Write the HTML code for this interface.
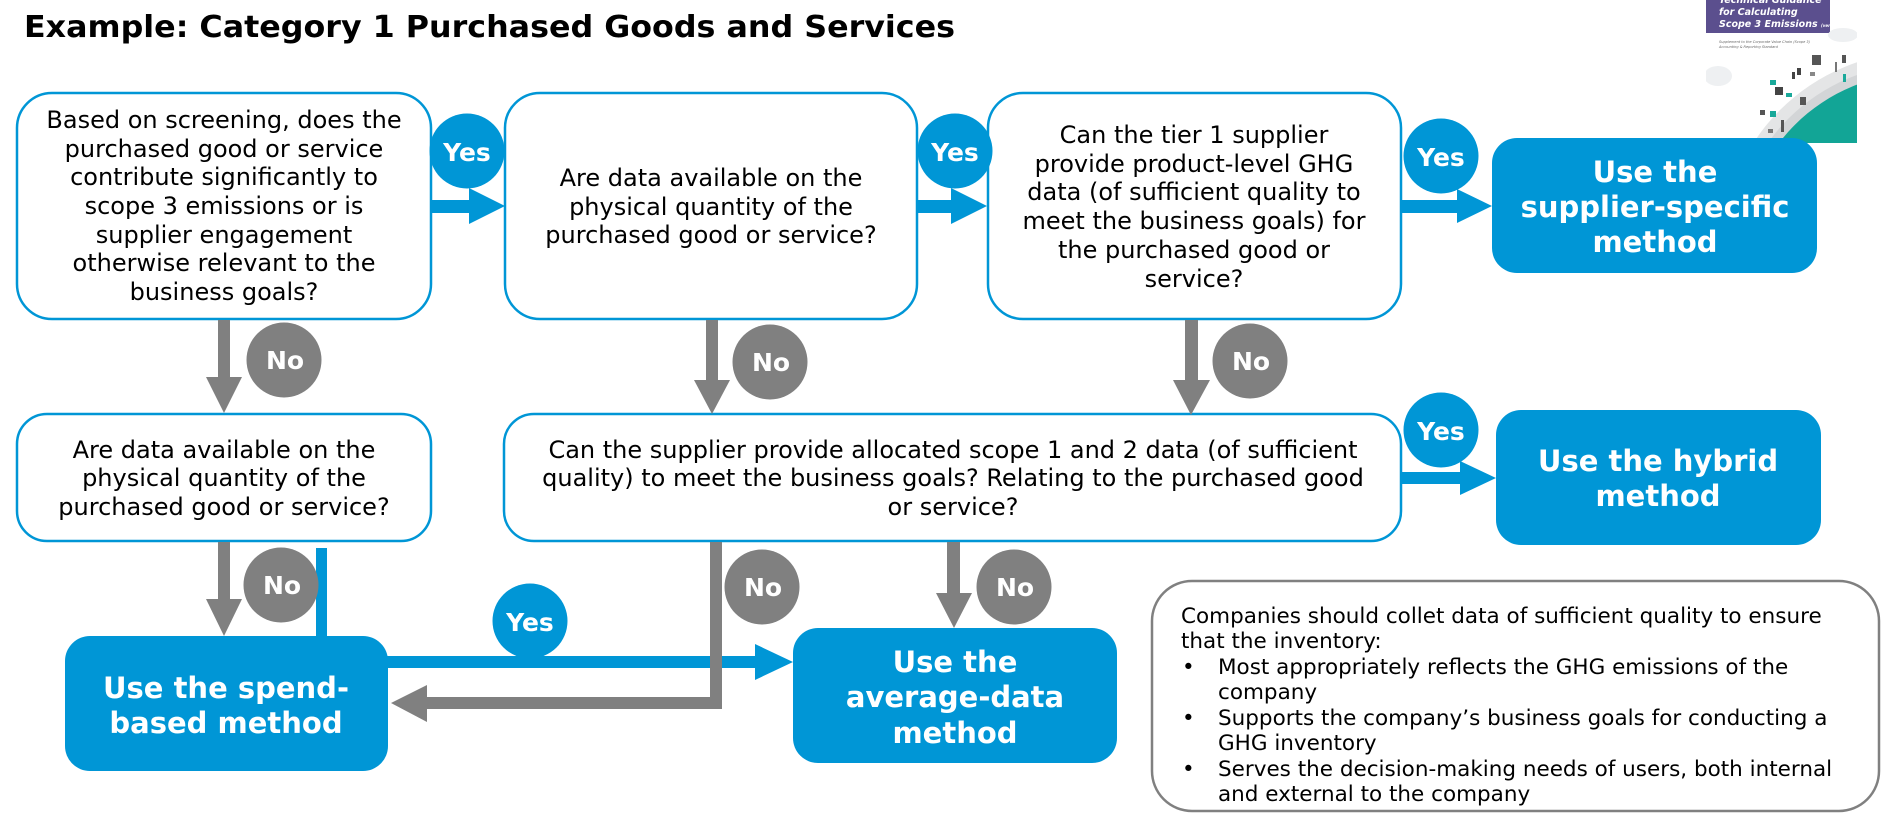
<!DOCTYPE html>
<html><head><meta charset="utf-8"><style>
html,body{margin:0;padding:0;background:#fff;}
svg{display:block;}
.t{font-family:"DejaVu Sans","Liberation Sans",sans-serif;}
.q{font-family:"DejaVu Sans","Liberation Sans",sans-serif;font-size:24px;fill:#000;text-anchor:middle;}
.b{font-family:"DejaVu Sans","Liberation Sans",sans-serif;font-weight:bold;font-size:29px;fill:#fff;text-anchor:middle;}
.c{font-family:"DejaVu Sans","Liberation Sans",sans-serif;font-weight:bold;font-size:25px;fill:#fff;text-anchor:middle;}
.n{font-family:"DejaVu Sans","Liberation Sans",sans-serif;font-size:21.5px;fill:#000;}
</style></head><body>
<svg width="1883" height="819" viewBox="0 0 1883 819" xmlns="http://www.w3.org/2000/svg">
<rect width="1883" height="819" fill="#fff"/>

<!-- Title -->
<text class="t" x="24" y="37" font-size="30" font-weight="bold" fill="#000" textLength="931" lengthAdjust="spacingAndGlyphs">Example: Category 1 Purchased Goods and Services</text>

<!-- Book cover -->
<defs>
  <clipPath id="cv"><rect x="1706" y="0" width="151" height="143"/></clipPath>
  <radialGradient id="tg" cx="0.7" cy="0.7" r="0.6">
    <stop offset="0" stop-color="#3cc3b3"/>
    <stop offset="1" stop-color="#12a596"/>
  </radialGradient>
</defs>
<g clip-path="url(#cv)">
  <rect x="1706" y="0" width="151" height="143" fill="#fff"/>
  <rect x="1706" y="0" width="124" height="33" fill="#5b4f8e"/>
  <text class="t" x="1719" y="3" font-size="9.5" font-weight="bold" font-style="italic" fill="#fff">Technical Guidance</text>
  <text class="t" x="1719" y="15" font-size="9.5" font-weight="bold" font-style="italic" fill="#fff">for Calculating</text>
  <text class="t" x="1719" y="27" font-size="9.5" font-weight="bold" font-style="italic" fill="#fff">Scope 3 Emissions <tspan font-size="4">(version 1.0)</tspan></text>
  <text class="t" x="1719" y="43" font-size="3.5" font-style="italic" fill="#666">Supplement to the Corporate Value Chain (Scope 3)</text>
  <text class="t" x="1719" y="48" font-size="3.5" font-style="italic" fill="#666">Accounting &amp; Reporting Standard</text>
  <ellipse cx="1843" cy="35" rx="15" ry="7" fill="#eef0f2"/>
  <ellipse cx="1718" cy="76" rx="14" ry="10" fill="#eef0f2"/>
  <circle cx="1920" cy="250" r="198" fill="#e4e5e6"/>
  <circle cx="1920" cy="250" r="186" fill="#d3d5d7"/>
  <circle cx="1920" cy="250" r="177" fill="url(#tg)"/>
  <rect x="1812" y="55" width="9" height="10" fill="#555"/>
  <rect x="1842" y="55" width="4" height="8" fill="#555"/>
  <rect x="1835" y="62" width="2" height="10" fill="#777"/>
  <rect x="1797" y="68" width="4" height="7" fill="#444"/>
  <rect x="1792" y="72" width="3" height="7" fill="#444"/>
  <rect x="1810" y="72" width="5" height="4" fill="#888"/>
  <rect x="1770" y="80" width="6" height="5" fill="#1aa99a"/>
  <rect x="1775" y="87" width="8" height="8" fill="#444"/>
  <rect x="1786" y="93" width="6" height="4" fill="#1aa99a"/>
  <rect x="1800" y="97" width="6" height="8" fill="#555"/>
  <rect x="1760" y="110" width="5" height="5" fill="#555"/>
  <rect x="1770" y="111" width="6" height="6" fill="#1aa99a"/>
  <rect x="1768" y="129" width="5" height="4" fill="#777"/>
  <rect x="1781" y="120" width="3" height="12" fill="#555"/>
  <rect x="1843" y="74" width="3" height="8" fill="#1aa99a"/>
</g>

<!-- Question boxes -->
<g fill="#fff" stroke="#0096D6" stroke-width="2.5">
  <rect x="17" y="93" width="414" height="226" rx="35"/>
  <rect x="505" y="93" width="412" height="226" rx="35"/>
  <rect x="988" y="93" width="413" height="226" rx="35"/>
  <rect x="17" y="414" width="414" height="127" rx="30"/>
  <rect x="504" y="414" width="897" height="127" rx="30"/>
</g>

<!-- Notes box -->
<rect x="1152" y="581" width="727" height="230" rx="40" fill="#fff" stroke="#808080" stroke-width="2.5"/>

<!-- Result boxes -->
<g fill="#0096D6">
  <rect x="1492" y="138" width="325" height="135" rx="25"/>
  <rect x="1496" y="410" width="325" height="135" rx="25"/>
  <rect x="65" y="636" width="323" height="135" rx="25"/>
  <rect x="793" y="628" width="324" height="135" rx="25"/>
</g>

<!-- Blue arrows -->
<g fill="#0096D6">
  <rect x="432" y="200" width="40" height="13"/>
  <polygon points="469,188 505,206 469,224"/>
  <rect x="918" y="200" width="36" height="13"/>
  <polygon points="951,188 987,206 951,224"/>
  <rect x="1402" y="200" width="58" height="13"/>
  <polygon points="1457,189 1492,206 1457,223"/>
  <rect x="1402" y="472" width="60" height="12"/>
  <polygon points="1460,461 1496,478 1460,495"/>
  <rect x="316" y="548" width="11" height="90"/>
  <rect x="320" y="656" width="438" height="12"/>
  <polygon points="755,644 793,662 755,680"/>
</g>

<!-- Gray arrows -->
<g fill="#808080">
  <rect x="218" y="320" width="12" height="60"/>
  <polygon points="206,377 242,377 224,413"/>
  <rect x="218" y="542" width="12" height="60"/>
  <polygon points="206,599 242,599 224,636"/>
  <rect x="706" y="320" width="12" height="62"/>
  <polygon points="694,380 730,380 712,414"/>
  <rect x="1185" y="320" width="13" height="62"/>
  <polygon points="1173,380 1210,380 1191,415"/>
  <polygon points="710,542 722,542 722,709 425,709 425,697 710,697"/>
  <polygon points="427,685 391,703 427,722"/>
  <rect x="947" y="542" width="13" height="53"/>
  <polygon points="936,593 972,593 954,628"/>
</g>

<!-- Yes circles -->
<g fill="#0096D6">
  <circle cx="467" cy="151" r="37.5"/>
  <circle cx="955" cy="151" r="37.5"/>
  <circle cx="1441" cy="156" r="37.5"/>
  <circle cx="1441" cy="430" r="37.5"/>
  <circle cx="530" cy="621" r="37.5"/>
</g>
<!-- No circles -->
<g fill="#808080">
  <circle cx="284" cy="360" r="37.5"/>
  <circle cx="770" cy="362" r="37.5"/>
  <circle cx="1250" cy="361" r="37.5"/>
  <circle cx="281" cy="585" r="37.5"/>
  <circle cx="762" cy="587" r="37.5"/>
  <circle cx="1014" cy="587" r="37.5"/>
</g>
<text class="c" x="467" y="161">Yes</text>
<text class="c" x="955" y="161">Yes</text>
<text class="c" x="1441" y="166">Yes</text>
<text class="c" x="1441" y="440">Yes</text>
<text class="c" x="530" y="631">Yes</text>
<text class="c" x="285" y="369">No</text>
<text class="c" x="771" y="371">No</text>
<text class="c" x="1251" y="370">No</text>
<text class="c" x="282" y="594">No</text>
<text class="c" x="763" y="596">No</text>
<text class="c" x="1015" y="596">No</text>

<!-- Box 1 text -->
<text class="q" x="224" y="128">Based on screening, does the</text>
<text class="q" x="224" y="157">purchased good or service</text>
<text class="q" x="224" y="185">contribute significantly to</text>
<text class="q" x="224" y="214">scope 3 emissions or is</text>
<text class="q" x="224" y="243">supplier engagement</text>
<text class="q" x="224" y="271">otherwise relevant to the</text>
<text class="q" x="224" y="300">business goals?</text>

<!-- Box 2 text -->
<text class="q" x="711" y="186">Are data available on the</text>
<text class="q" x="711" y="215">physical quantity of the</text>
<text class="q" x="711" y="243">purchased good or service?</text>

<!-- Box 3 text -->
<text class="q" x="1194" y="143">Can the tier 1 supplier</text>
<text class="q" x="1194" y="172">provide product-level GHG</text>
<text class="q" x="1194" y="200">data (of sufficient quality to</text>
<text class="q" x="1194" y="229">meet the business goals) for</text>
<text class="q" x="1194" y="258">the purchased good or</text>
<text class="q" x="1194" y="287">service?</text>

<!-- Box 4 text -->
<text class="q" x="224" y="458">Are data available on the</text>
<text class="q" x="224" y="486">physical quantity of the</text>
<text class="q" x="224" y="515">purchased good or service?</text>

<!-- Box 5 text -->
<text class="q" x="953" y="458">Can the supplier provide allocated scope 1 and 2 data (of sufficient</text>
<text class="q" x="953" y="486">quality) to meet the business goals? Relating to the purchased good</text>
<text class="q" x="953" y="515">or service?</text>

<!-- Result texts -->
<text class="b" x="1655" y="182">Use the</text>
<text class="b" x="1655" y="217">supplier-specific</text>
<text class="b" x="1655" y="252">method</text>

<text class="b" x="1658" y="471">Use the hybrid</text>
<text class="b" x="1658" y="506">method</text>

<text class="b" x="226" y="698">Use the spend-</text>
<text class="b" x="226" y="733">based method</text>

<text class="b" x="955" y="672">Use the</text>
<text class="b" x="955" y="707">average-data</text>
<text class="b" x="955" y="743">method</text>

<!-- Notes text -->
<text class="n" x="1181" y="623">Companies should collet data of sufficient quality to ensure</text>
<text class="n" x="1181" y="648">that the inventory:</text>
<text class="n" x="1182" y="674">•</text>
<text class="n" x="1218" y="674">Most appropriately reflects the GHG emissions of the</text>
<text class="n" x="1218" y="699">company</text>
<text class="n" x="1182" y="725">•</text>
<text class="n" x="1218" y="725">Supports the company’s business goals for conducting a</text>
<text class="n" x="1218" y="750">GHG inventory</text>
<text class="n" x="1182" y="776">•</text>
<text class="n" x="1218" y="776">Serves the decision-making needs of users, both internal</text>
<text class="n" x="1218" y="801">and external to the company</text>
</svg>
</body></html>
